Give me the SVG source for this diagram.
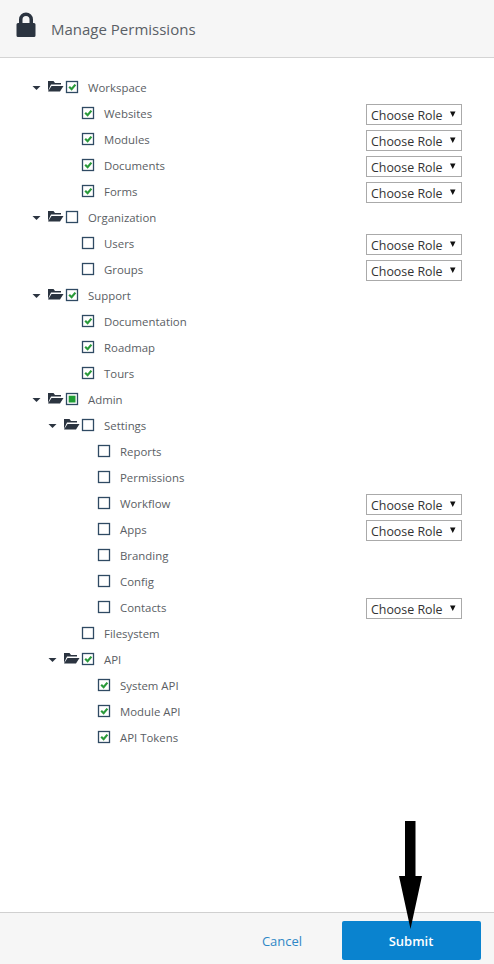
<svg xmlns="http://www.w3.org/2000/svg" xmlns:xlink="http://www.w3.org/1999/xlink" width="494" height="964" viewBox="0 0 494 964">
<style>
text{font-family:"Open Sans","Noto Sans","Liberation Sans",sans-serif}
.l{font-size:11.4px;fill:#5a5e64}
.r{font-size:12.4px;fill:#333}
.b{fill:#fff;stroke:#aaa;stroke-width:1}
.c{fill:#fff;stroke:#2f4a63;stroke-width:1.3}
.k{fill:none;stroke:#2a9a3a;stroke-width:2.2}
</style>
<defs>
<g id="box"><rect class="c" x="-0.500" y="-6.500" width="11" height="11"/></g>
<g id="chk"><use href="#box"/><path class="k" d="M2.200 -1.200L4.600 1.200L8.400 -3.400"/></g>
<g id="mix"><use href="#box"/><rect x="1.700" y="-4.300" width="6.800" height="6.800" fill="#1f9d34"/></g>
<g id="exp"><path d="M-34.500 -2h8l-4 4z" fill="#2b3440"/><path d="M-19 -7h5.500l1.500 2h6v1.500h-10l-3 6.500zM-19 3.500l3.500 -5.500h12l-3.500 5.500z" fill="#2b3440"/></g>
<g id="sel"><rect class="b" x="0.500" y="-9.500" width="95" height="20"/><text class="r" x="5" y="5.500">Choose Role</text><path d="M84 -2.500h5.500l-2.750 5.500z" fill="#111"/></g>
</defs>
<g id="header">
<rect width="494" height="57" fill="#f6f6f6"/>
<rect y="57" width="494" height="1" fill="#d4d4d4"/>
<path d="M16.500 24.500a1.500 1.500 0 0 1 1.500 -1.500h1v-3.500a7 7 0 0 1 14 0v3.500h1a1.500 1.500 0 0 1 1.500 1.500v11a1.500 1.500 0 0 1 -1.500 1.500h-16a1.500 1.500 0 0 1 -1.500 -1.500zM22.500 23h7v-3.500a3.500 3.500 0 0 0 -7 0z" fill="#2b3440" fill-rule="evenodd"/>
<text x="51" y="35" font-size="15" fill="#5a5f66">Manage Permissions</text>
</g>
<g id="workspace" transform="translate(67,88)"><use href="#exp"/><use href="#chk"/><text class="l" x="21" y="4">Workspace</text></g>
<g id="websites" transform="translate(83,114)"><use href="#chk"/><text class="l" x="21" y="4">Websites</text></g>
<g id="modules" transform="translate(83,140)"><use href="#chk"/><text class="l" x="21" y="4">Modules</text></g>
<g id="documents" transform="translate(83,166)"><use href="#chk"/><text class="l" x="21" y="4">Documents</text></g>
<g id="forms" transform="translate(83,192)"><use href="#chk"/><text class="l" x="21" y="4">Forms</text></g>
<g id="organization" transform="translate(67,218)"><use href="#exp"/><use href="#box"/><text class="l" x="21" y="4">Organization</text></g>
<g id="users" transform="translate(83,244)"><use href="#box"/><text class="l" x="21" y="4">Users</text></g>
<g id="groups" transform="translate(83,270)"><use href="#box"/><text class="l" x="21" y="4">Groups</text></g>
<g id="support" transform="translate(67,296)"><use href="#exp"/><use href="#chk"/><text class="l" x="21" y="4">Support</text></g>
<g id="documentation" transform="translate(83,322)"><use href="#chk"/><text class="l" x="21" y="4">Documentation</text></g>
<g id="roadmap" transform="translate(83,348)"><use href="#chk"/><text class="l" x="21" y="4">Roadmap</text></g>
<g id="tours" transform="translate(83,374)"><use href="#chk"/><text class="l" x="21" y="4">Tours</text></g>
<g id="admin" transform="translate(67,400)"><use href="#exp"/><use href="#mix"/><text class="l" x="21" y="4">Admin</text></g>
<g id="settings" transform="translate(83,426)"><use href="#exp"/><use href="#box"/><text class="l" x="21" y="4">Settings</text></g>
<g id="reports" transform="translate(99,452)"><use href="#box"/><text class="l" x="21" y="4">Reports</text></g>
<g id="permissions" transform="translate(99,478)"><use href="#box"/><text class="l" x="21" y="4">Permissions</text></g>
<g id="workflow" transform="translate(99,504)"><use href="#box"/><text class="l" x="21" y="4">Workflow</text></g>
<g id="apps" transform="translate(99,530)"><use href="#box"/><text class="l" x="21" y="4">Apps</text></g>
<g id="branding" transform="translate(99,556)"><use href="#box"/><text class="l" x="21" y="4">Branding</text></g>
<g id="config" transform="translate(99,582)"><use href="#box"/><text class="l" x="21" y="4">Config</text></g>
<g id="contacts" transform="translate(99,608)"><use href="#box"/><text class="l" x="21" y="4">Contacts</text></g>
<g id="filesystem" transform="translate(83,634)"><use href="#box"/><text class="l" x="21" y="4">Filesystem</text></g>
<g id="api" transform="translate(83,660)"><use href="#exp"/><use href="#chk"/><text class="l" x="21" y="4">API</text></g>
<g id="system-api" transform="translate(99,686)"><use href="#chk"/><text class="l" x="21" y="4">System API</text></g>
<g id="module-api" transform="translate(99,712)"><use href="#chk"/><text class="l" x="21" y="4">Module API</text></g>
<g id="api-tokens" transform="translate(99,738)"><use href="#chk"/><text class="l" x="21" y="4">API Tokens</text></g>
<g id="roles">
<use href="#sel" x="366" y="114"/><use href="#sel" x="366" y="140"/><use href="#sel" x="366" y="166"/><use href="#sel" x="366" y="192"/>
<use href="#sel" x="366" y="244"/><use href="#sel" x="366" y="270"/>
<use href="#sel" x="366" y="504"/><use href="#sel" x="366" y="530"/><use href="#sel" x="366" y="608"/>
</g>
<g id="footer">
<rect y="912" width="494" height="52" fill="#f6f6f6"/>
<rect y="912" width="494" height="1" fill="#d0d0d0"/>
<text x="282" y="946" font-size="13" fill="#2f87c6" text-anchor="middle">Cancel</text>
<rect x="342" y="921" width="139" height="39" rx="2" fill="#0a83cf"/>
<text x="411" y="946" font-size="13" font-weight="600" fill="#fff" text-anchor="middle">Submit</text>
</g>
<g id="connectors">
<path d="M405 821h10.500v55h6.500l-11.500 53l-11.500 -53h6z" fill="#000"/>
</g>
</svg>
